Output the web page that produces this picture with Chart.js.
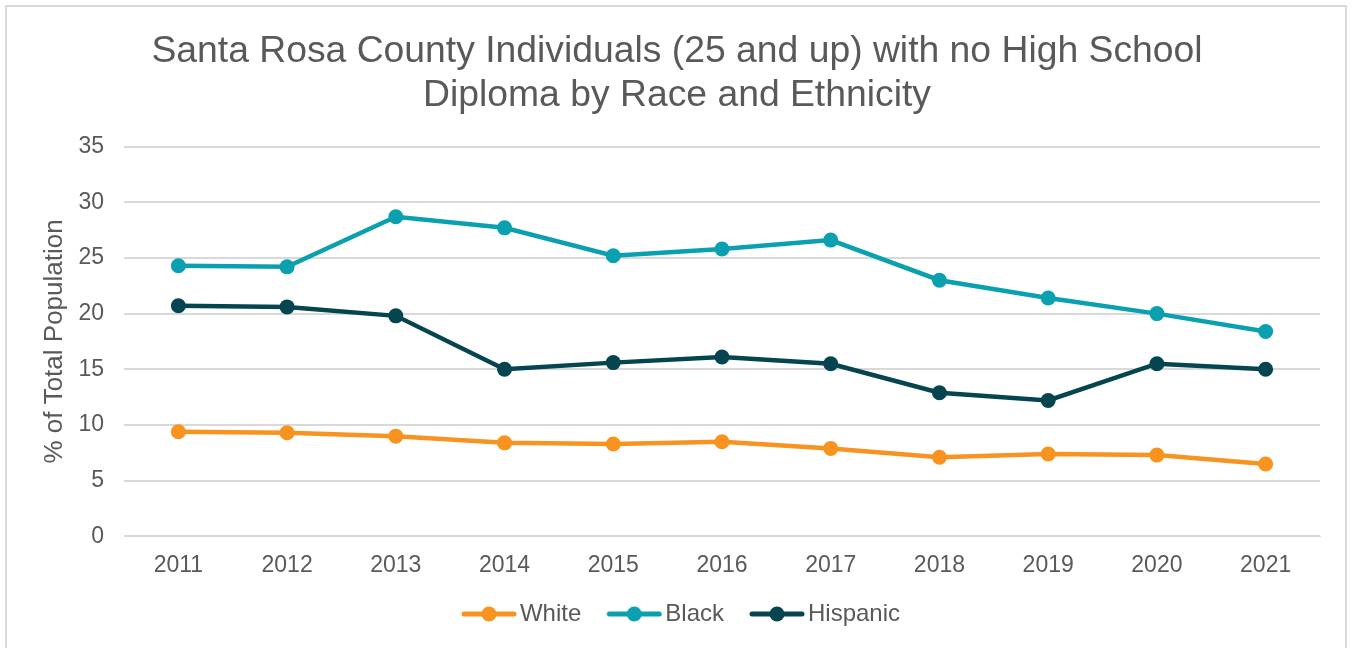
<!DOCTYPE html>
<html>
<head>
<meta charset="utf-8">
<script src="https://cdn.jsdelivr.net/npm/chart.js@4.4.0/dist/chart.umd.min.js"></script>
<style>
  html, body { margin: 0; padding: 0; background: #fff; }
  #marco {
    position: absolute; left: 5px; top: 5px; width: 1342px; height: 660px;
    border: 2px solid #d9d9d9; box-sizing: border-box;
  }
  #caja { position: absolute; left: 0; top: 0; width: 1352px; height: 648px; }
</style>
</head>
<body>
<div id="marco"></div>
<div id="caja"><canvas id="myChart"></canvas></div>
<script>
var anios = ['2011', '2012', '2013', '2014', '2015', '2016', '2017', '2018', '2019', '2020', '2021'];
var blancos = [9.4, 9.3, 9.0, 8.4, 8.3, 8.5, 7.9, 7.1, 7.4, 7.3, 6.5];
var negros = [24.3, 24.2, 28.7, 27.7, 25.2, 25.8, 26.6, 23.0, 21.4, 20.0, 18.4];
var hispanos = [20.7, 20.6, 19.8, 15.0, 15.6, 16.1, 15.5, 12.9, 12.2, 15.5, 15.0];
var titulo = ['Santa Rosa County Individuals (25 and up) with no High School', 'Diploma by Race and Ethnicity'];

var gris = '#595959';
var fuente = 'Liberation Sans, Arial';
var colores = { White: '#F7931E', Black: '#0AA0B0', Hispanic: '#054550' };

// marcador de leyenda: linea con punto (desplazado a la derecha, pegado al texto)
function marcador(color) {
    var c = document.createElement('canvas');
    c.width = 74; c.height = 18;
    var ctx = c.getContext('2d');
    ctx.strokeStyle = color;
    ctx.lineWidth = 5;
    ctx.lineCap = 'round';
    ctx.beginPath();
    ctx.moveTo(21, 9); ctx.lineTo(71, 9);
    ctx.stroke();
    ctx.fillStyle = color;
    ctx.beginPath();
    ctx.arc(46, 9, 7.5, 0, Math.PI * 2);
    ctx.fill();
    return c;
}

function serie(nombre, datos) {
    return {
        label: nombre,
        data: datos,
        borderColor: colores[nombre],
        backgroundColor: colores[nombre],
        borderWidth: 4.5,
        pointRadius: 7.5,
        pointHoverRadius: 7.5,
        pointBorderWidth: 0,
        tension: 0
    };
}

// centrar titulo y leyenda como en el original
var correrCajas = {
    id: 'correrCajas',
    afterLayout: function(ch) {
        ch.titleBlock.left += 7;
        ch.titleBlock.right += 7;
        ch.legend.left += 6;
        ch.legend.right += 6;
    }
};

var canvas = document.getElementById('myChart').getContext('2d');
var chart = new Chart(canvas, {
    type: 'line',
    data: {
        labels: anios,
        datasets: [serie('White', blancos), serie('Black', negros), serie('Hispanic', hispanos)]
    },
    plugins: [correrCajas],
    options: {
        responsive: true,
        maintainAspectRatio: false,
        animation: false,
        layout: { padding: { left: 20, right: 32, top: 29, bottom: 12 } },
        plugins: {
            title: {
                display: true,
                text: titulo,
                color: gris,
                font: { family: fuente, size: 37.3, weight: 'normal', lineHeight: 1.2 },
                padding: { top: 0, bottom: 28 }
            },
            legend: {
                position: 'bottom',
                labels: {
                    usePointStyle: true,
                    pointStyleWidth: 56,
                    color: gris,
                    font: { family: fuente, size: 24 },
                    padding: 16,
                    generateLabels: function(ch) {
                        return ch.data.datasets.map(function(ds, i) {
                            return {
                                text: ds.label,
                                pointStyle: marcador(ds.borderColor),
                                fillStyle: ds.borderColor,
                                strokeStyle: ds.borderColor,
                                lineWidth: 0,
                                fontColor: gris,
                                datasetIndex: i
                            };
                        });
                    }
                }
            },
            tooltip: { enabled: false }
        },
        scales: {
            x: {
                offset: true,
                grid: { display: false },
                border: { display: true, color: '#d9d9d9', width: 1 },
                ticks: { color: gris, font: { family: fuente, size: 23 }, padding: 7 }
            },
            y: {
                min: 0, max: 35,
                afterFit: function(s) { s.width = 104; },
                ticks: { stepSize: 5, color: gris, font: { family: fuente, size: 23 }, padding: 20 },
                grid: { color: '#d9d9d9', lineWidth: 2, drawTicks: false },
                border: { display: false },
                title: {
                    display: true,
                    text: '% of Total Population',
                    color: gris,
                    font: { family: fuente, size: 26 },
                    padding: { top: 19, bottom: 0 }
                }
            }
        }
    }
});
</script>
</body>
</html>
